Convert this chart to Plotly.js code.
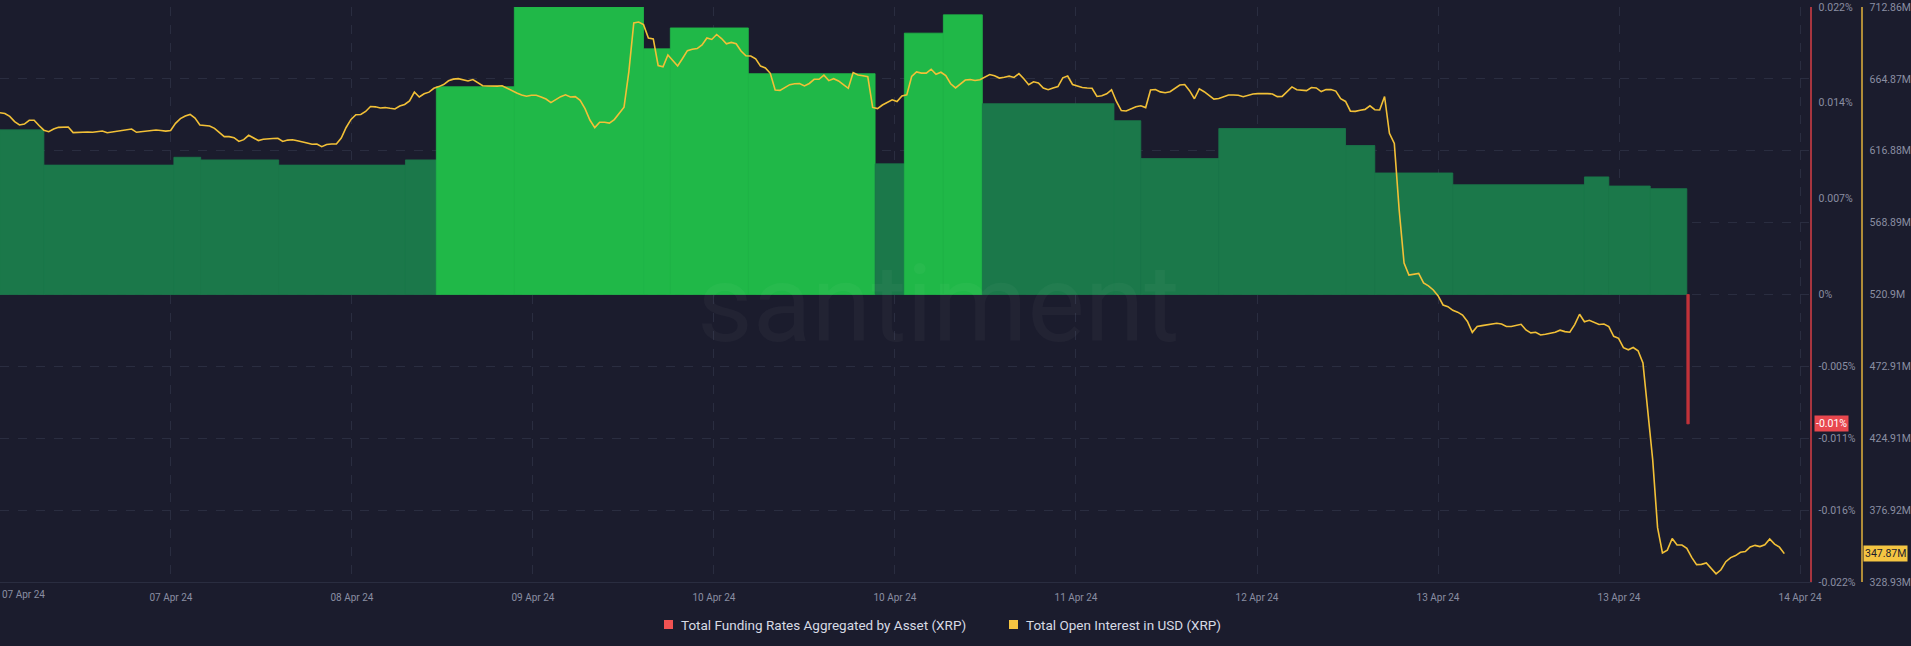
<!DOCTYPE html>
<html>
<head>
<meta charset="utf-8">
<script src="https://cdn.plot.ly/plotly-3.0.1.min.js"></script>
<style>
html,body{margin:0;padding:0;background:#1b1c2d;}
#chart{width:1911px;height:646px;}
</style>
</head>
<body>
<div id="chart"></div>
<script>
// ---------------- DATA ----------------
const seriesNames = ['Total Funding Rates Aggregated by Asset (XRP)', 'Total Open Interest in USD (XRP)'];

// Funding rate (%) — each value holds from its start time until the next start
const fundingStart = [
  '2024-04-07 01:30','2024-04-07 06:00','2024-04-07 19:20','2024-04-07 22:05',
  '2024-04-08 06:05','2024-04-08 19:05','2024-04-08 22:15','2024-04-09 06:15',
  '2024-04-09 19:30','2024-04-09 22:15','2024-04-10 06:15','2024-04-10 19:15',
  '2024-04-10 22:15','2024-04-11 02:15','2024-04-11 06:15','2024-04-11 19:45',
  '2024-04-11 22:30','2024-04-12 06:30','2024-04-12 19:30','2024-04-12 22:30',
  '2024-04-13 06:30','2024-04-13 20:00','2024-04-13 22:30','2024-04-14 02:45',
  '2024-04-14 06:30'
];
const fundingEnd = '2024-04-14 06:45';
const fundingRate = [
  0.0126, 0.0099, 0.0105, 0.0103,
  0.0099, 0.0103, 0.0159, 0.0220,
  0.0188, 0.0204, 0.0169, 0.0100,
  0.0200, 0.0214, 0.0146, 0.0133,
  0.0104, 0.0127, 0.0114, 0.0093,
  0.0084, 0.0090, 0.0083, 0.0081,
  -0.0099
];

// Open interest (millions USD), one value every 30 minutes
const oiStart = '2024-04-07 01:30';
const oiStepMinutes = 30;
const openInterest = [
  642.3,641.7,639.8,636.3,634.1,634.7,637.2,637.2,633.7,630.6,
  629.6,631.4,632.5,632.7,632.7,629.0,629.3,629.4,629.4,629.2,
  629.7,630.1,628.9,629.4,629.7,630.2,630.7,631.4,629.2,629.5,
  630.2,630.5,630.7,630.4,630.0,630.4,635.2,638.3,640.1,641.1,
  638.7,634.1,633.6,633.4,631.8,629.1,626.3,626.3,625.6,623.1,
  624.3,627.2,625.3,623.7,624.6,625.0,625.1,625.2,623.1,624.0,
  624.2,623.6,623.0,622.1,621.2,621.4,619.6,621.0,621.4,621.4,
  625.4,632.4,637.8,640.9,641.1,643.1,646.4,646.2,645.4,645.7,
  645.2,644.8,646.7,647.8,650.1,656.1,652.8,654.9,656.0,658.6,
  659.7,661.1,663.6,664.7,665.0,664.0,663.5,664.4,662.6,660.3,
  660.1,659.9,660.0,660.3,658.6,657.0,655.4,654.1,653.3,653.9,
  653.9,652.8,651.4,649.0,650.8,653.0,654.2,652.8,653.0,650.5,
  645.0,637.4,632.3,635.9,635.9,635.3,637.7,641.8,646.0,669.9,
  702.2,702.8,701.1,692.2,691.6,673.8,672.9,680.8,677.1,673.5,
  678.5,683.7,684.7,685.1,687.5,692.2,691.2,694.5,691.8,688.3,
  689.2,688.3,683.5,680.3,680.1,678.2,673.4,672.1,668.6,657.4,
  657.2,658.9,661.0,661.6,661.8,660.2,661.8,664.6,664.6,667.3,
  663.7,665.0,663.5,661.1,658.6,669.1,667.4,666.9,666.3,645.8,
  645.0,647.4,649.3,650.9,649.7,653.5,654.2,666.5,669.5,668.7,
  668.7,671.3,668.0,669.3,667.1,661.6,658.8,661.4,664.1,664.4,
  663.8,664.3,665.9,667.8,667.0,665.4,666.0,666.7,665.8,668.4,
  664.9,661.0,662.9,662.2,658.7,657.6,658.8,659.7,665.6,666.8,
  661.1,660.0,659.1,658.8,658.6,653.1,653.6,654.9,657.6,649.8,
  643.7,643.4,644.9,646.3,646.9,645.7,657.4,657.8,656.2,655.6,
  656.3,658.6,660.8,661.1,657.0,651.6,658.2,656.3,653.6,651.4,
  651.8,653.0,654.1,654.1,653.9,653.0,653.8,654.8,655.0,655.2,
  655.0,654.8,653.0,653.2,656.3,659.5,657.6,657.2,657.0,659.1,
  658.8,656.4,657.7,657.7,656.7,651.6,649.8,643.3,643.2,643.9,
  644.5,646.9,644.3,644.1,653.1,628.5,621.8,577.3,541.9,533.9,
  534.5,535.0,528.6,526.7,523.9,519.9,513.9,512.8,510.3,509.1,
  507.2,502.9,495.6,499.6,500.1,500.5,501.4,501.7,501.2,499.5,
  499.5,500.3,501.0,497.2,495.3,495.7,493.9,494.4,495.0,495.7,
  497.1,496.1,495.7,500.8,507.7,502.7,503.7,502.5,500.9,501.2,
  499.5,493.0,491.6,485.4,484.0,485.5,483.3,475.2,443.8,410.6,
  365.2,348.3,350.2,358.0,353.6,353.6,351.4,345.4,340.5,340.7,
  341.6,338.2,334.4,337.1,342.5,345.2,346.6,348.8,349.3,352.3,
  353.4,352.6,353.8,357.7,354.2,352.2,347.87
];

// Axis ticks
const xTickLabels = ['07 Apr 24','08 Apr 24','09 Apr 24','10 Apr 24','10 Apr 24','11 Apr 24','12 Apr 24','13 Apr 24','13 Apr 24','14 Apr 24'];
const xLeadingTickLabel = '07 Apr 24';
const xTickStart = '2024-04-07 19:02';
const xTickStepHours = 18.564;
const xRangeStart = '2024-04-07 01:30';
const xRangeEnd = '2024-04-14 19:08';

const fundingTickVals = [0.022, 0.01467, 0.00733, 0, -0.0055, -0.011, -0.0165, -0.022];
const fundingTickText = ['0.022%','0.014%','0.007%','0%','-0.005%','-0.011%','-0.016%','-0.022%'];
const oiTickVals = [712.86, 664.87, 616.88, 568.89, 520.9, 472.91, 424.91, 376.92, 328.93];
const oiTickText = ['712.86M','664.87M','616.88M','568.89M','520.9M','472.91M','424.91M','376.92M','328.93M'];

// ---------------- BUILD ----------------
function ms(s){ return Date.parse(s.replace(' ','T') + ':00Z'); }
const HOUR = 3600e3;

const barX = [], barW = [], barColor = [];
fundingStart.forEach((s, i) => {
  const a = ms(s);
  const b = i + 1 < fundingStart.length ? ms(fundingStart[i+1]) : ms(fundingEnd);
  barX.push(a);
  barW.push(b - a);
  const v = fundingRate[i];
  barColor.push(v < 0 ? '#c2323a' : (v > 0.015 ? '#20b848' : '#1b784a'));
});

const oiX = openInterest.map((_, i) => ms(oiStart) + i * oiStepMinutes * 60e3);
const tickVals = xTickLabels.map((_, k) => ms(xTickStart) + k * xTickStepHours * HOUR);

const BG = '#1b1c2d';
const GRID = '#2a2d40';
const TXT = '#8a8ea2';
const W = 1911, H = 646;
const plotRight = 1810, plotTop = 7, plotBottom = 582;
const px = x => x / W;
const py = y => (plotBottom - y) / (plotBottom - plotTop);

const traces = [
  {
    type: 'bar', name: seriesNames[0], x: barX, y: fundingRate, width: barW, offset: 0,
    yaxis: 'y', xaxis: 'x',
    marker: { color: barColor, line: { width: 0.8, color: barColor } },
    hoverinfo: 'skip', showlegend: false
  },
  {
    type: 'scatter', mode: 'lines', name: seriesNames[1], x: oiX, y: openInterest,
    yaxis: 'y2', xaxis: 'x',
    line: { color: '#f2c037', width: 1.6 },
    hoverinfo: 'skip', showlegend: false
  }
];

const lastF = fundingRate[fundingRate.length - 1];
const lastOI = openInterest[openInterest.length - 1];

const layout = {
  width: W, height: H,
  paper_bgcolor: BG, plot_bgcolor: BG,
  margin: { l: 0, r: 0, t: plotTop, b: H - plotBottom, pad: 0 },
  showlegend: false,
  font: { family: 'Roboto, "Open Sans", sans-serif', color: TXT },
  xaxis: {
    type: 'date', domain: [0, plotRight / W],
    range: [ms(xRangeStart), ms(xRangeEnd)],
    tickmode: 'array', tickvals: tickVals, ticktext: xTickLabels,
    tickfont: { size: 10, color: TXT }, ticks: '', ticklabelstandoff: 6,
    showgrid: true, gridcolor: GRID, griddash: 'dash', gridwidth: 1,
    showline: true, linecolor: GRID, linewidth: 1, zeroline: false, fixedrange: true
  },
  yaxis: {
    side: 'right', anchor: 'x', range: [-0.022, 0.022],
    tickmode: 'array', tickvals: fundingTickVals, ticktext: fundingTickText,
    tickfont: { size: 10.5, color: TXT }, ticks: '', ticklabelstandoff: 5,
    showgrid: false, zeroline: false,
    showline: true, linecolor: '#a8353f', linewidth: 1.5
  },
  yaxis2: {
    overlaying: 'y', side: 'right', anchor: 'free', position: 1861 / W,
    range: [328.93, 712.86],
    tickmode: 'array', tickvals: oiTickVals, ticktext: oiTickText,
    tickfont: { size: 10.5, color: TXT }, ticks: '', ticklabelstandoff: 5,
    showgrid: true, gridcolor: GRID, griddash: 'dash', gridwidth: 1, zeroline: false,
    showline: true, linecolor: '#b08c38', linewidth: 1.5
  },
  shapes: [
    { type: 'rect', xref: 'paper', yref: 'paper', x0: px(664), x1: px(673), y0: py(629), y1: py(620),
      fillcolor: '#f05252', line: { width: 0 } },
    { type: 'rect', xref: 'paper', yref: 'paper', x0: px(1009), x1: px(1018), y0: py(629), y1: py(620),
      fillcolor: '#f5c542', line: { width: 0 } }
  ],
  annotations: [
    { text: 'santiment', xref: 'paper', yref: 'paper', x: px(938), y: py(304), showarrow: false,
      xanchor: 'center', yanchor: 'middle',
      font: { size: 108, color: 'rgba(255,255,255,0.03)', family: 'Roboto, sans-serif' } },
    { text: xLeadingTickLabel, xref: 'paper', yref: 'paper', x: px(23), y: py(594), showarrow: false,
      xanchor: 'center', yanchor: 'middle', font: { size: 10, color: TXT } },
    { text: lastF.toFixed(2) + '%', xref: 'paper', yref: 'y', x: px(1814), y: lastF, showarrow: false,
      xanchor: 'left', yanchor: 'middle', bgcolor: '#e8474e', borderpad: 1,
      font: { size: 10.5, color: '#ffffff' } },
    { text: lastOI.toFixed(2) + 'M', xref: 'paper', yref: 'y2', x: px(1863), y: lastOI, showarrow: false,
      xanchor: 'left', yanchor: 'middle', bgcolor: '#f5c542', borderpad: 1,
      font: { size: 10.5, color: '#1b1c2d' } },
    { text: seriesNames[0], xref: 'paper', yref: 'paper', x: px(679), y: py(625), showarrow: false,
      xanchor: 'left', yanchor: 'middle', font: { size: 13.5, color: '#d7dae4' } },
    { text: seriesNames[1], xref: 'paper', yref: 'paper', x: px(1024), y: py(625), showarrow: false,
      xanchor: 'left', yanchor: 'middle', font: { size: 13.5, color: '#d7dae4' } }
  ]
};

Plotly.newPlot('chart', traces, layout, { staticPlot: true, displayModeBar: false });
</script>
</body>
</html>
